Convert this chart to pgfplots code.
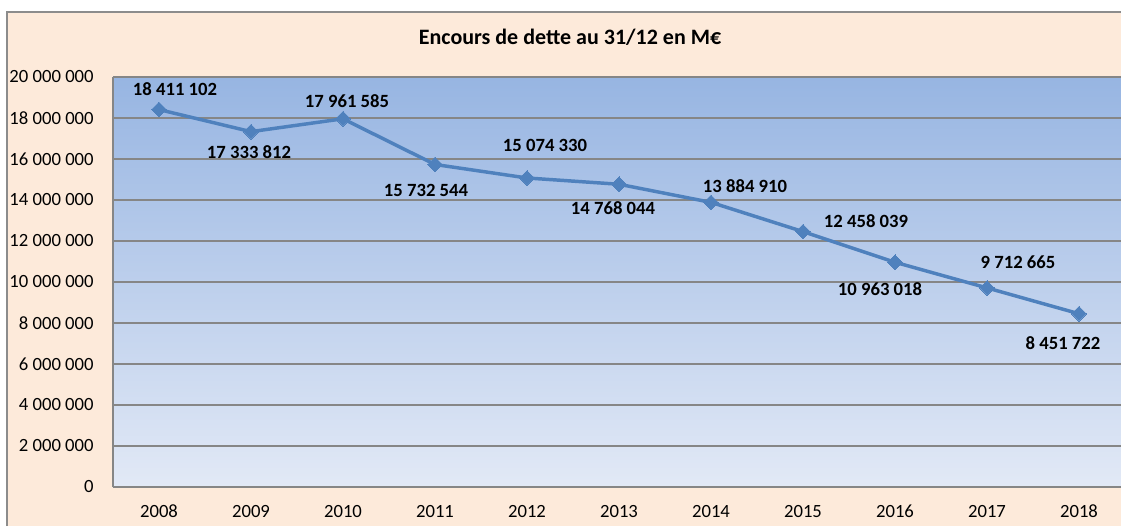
\documentclass[border=0pt]{standalone}
\usepackage{pgfplots}
\pgfplotsset{compat=1.18}
\usepackage{fontspec}
\setmainfont{Carlito}
\definecolor{peach}{RGB}{253,234,218}
\definecolor{frame}{RGB}{140,140,140}
\definecolor{gridc}{RGB}{134,134,134}
\definecolor{linec}{RGB}{79,129,189}
\definecolor{topb}{RGB}{151,181,226}
\definecolor{botb}{RGB}{226,233,246}
\pgfplotstableread{
year value
2008 18411102
2009 17333812
2010 17961585
2011 15732544
2012 15074330
2013 14768044
2014 13884910
2015 12458039
2016 10963018
2017 9712665
2018 8451722
}\datatable
\tikzset{dl/.style={font=\fontsize{14pt}{16pt}\selectfont\bfseries}}
\begin{document}
\begin{tikzpicture}[x=0.75pt,y=0.75pt]
\path[use as bounding box] (0,0) rectangle (1121,526);
\fill[white] (0,0) rectangle (1121,526);
\fill[peach] (7,0) rectangle (1121,514);
\draw[frame, line width=0.9pt] (7,0) -- (7,514) -- (1121,514);
\node[font=\fontsize{16.5pt}{18pt}\selectfont\bfseries] at (570,489) {Encours de dette au 31/12 en M€};
\begin{axis}[
  at={(84.75pt,29.25pt)}, anchor=south west,
  scale only axis, width=756pt, height=307.5pt,
  xmin=2007.5, xmax=2018.4565, ymin=0, ymax=20000000,
  axis x line=bottom, axis y line=left,
  axis line style={-, gridc, line width=1.1pt},
  xtick={2008,2009,2010,2011,2012,2013,2014,2015,2016,2017,2018},
  xticklabels={2008,2009,2010,2011,2012,2013,2014,2015,2016,2017,2018},
  ytick={0,2000000,4000000,6000000,8000000,10000000,12000000,14000000,16000000,18000000,20000000},
  yticklabels={0,2 000 000,4 000 000,6 000 000,8 000 000,10 000 000,12 000 000,14 000 000,16 000 000,18 000 000,20 000 000},
  scaled y ticks=false,
  major tick length=0pt,
  ymajorgrids, grid style={gridc, line width=1.1pt},
  axis background/.style={top color=topb, bottom color=botb},
  ticklabel style={font=\fontsize{14pt}{16pt}\selectfont},
  yticklabel style={xshift=-11pt},
  xticklabel style={yshift=-10pt},
  clip=false,
]
\addplot[linec, line width=2.6pt, mark=square*, mark size=3.9pt, mark options={fill=linec, line width=0pt, rotate=45}] table[x=year,y=value]{\datatable};
\node[dl, xshift=16*0.75pt, yshift=20*0.75pt] at (axis cs:2008,18411102) {18 411 102};
\node[dl, xshift=-2*0.75pt, yshift=-20*0.75pt] at (axis cs:2009,17333812) {17 333 812};
\node[dl, xshift=4*0.75pt, yshift=18*0.75pt] at (axis cs:2010,17961585) {17 961 585};
\node[dl, xshift=-9*0.75pt, yshift=-26*0.75pt] at (axis cs:2011,15732544) {15 732 544};
\node[dl, xshift=18*0.75pt, yshift=33*0.75pt] at (axis cs:2012,15074330) {15 074 330};
\node[dl, xshift=-6*0.75pt, yshift=-24*0.75pt] at (axis cs:2013,14768044) {14 768 044};
\node[dl, xshift=34*0.75pt, yshift=16*0.75pt] at (axis cs:2014,13884910) {13 884 910};
\node[dl, xshift=63*0.75pt, yshift=10*0.75pt] at (axis cs:2015,12458039) {12 458 039};
\node[dl, xshift=-15*0.75pt, yshift=-27*0.75pt] at (axis cs:2016,10963018) {10 963 018};
\node[dl, xshift=31*0.75pt, yshift=26*0.75pt] at (axis cs:2017,9712665) {9 712 665};
\node[dl, xshift=-16*0.75pt, yshift=-29*0.75pt] at (axis cs:2018,8451722) {8 451 722};
\end{axis}
\end{tikzpicture}
\end{document}
